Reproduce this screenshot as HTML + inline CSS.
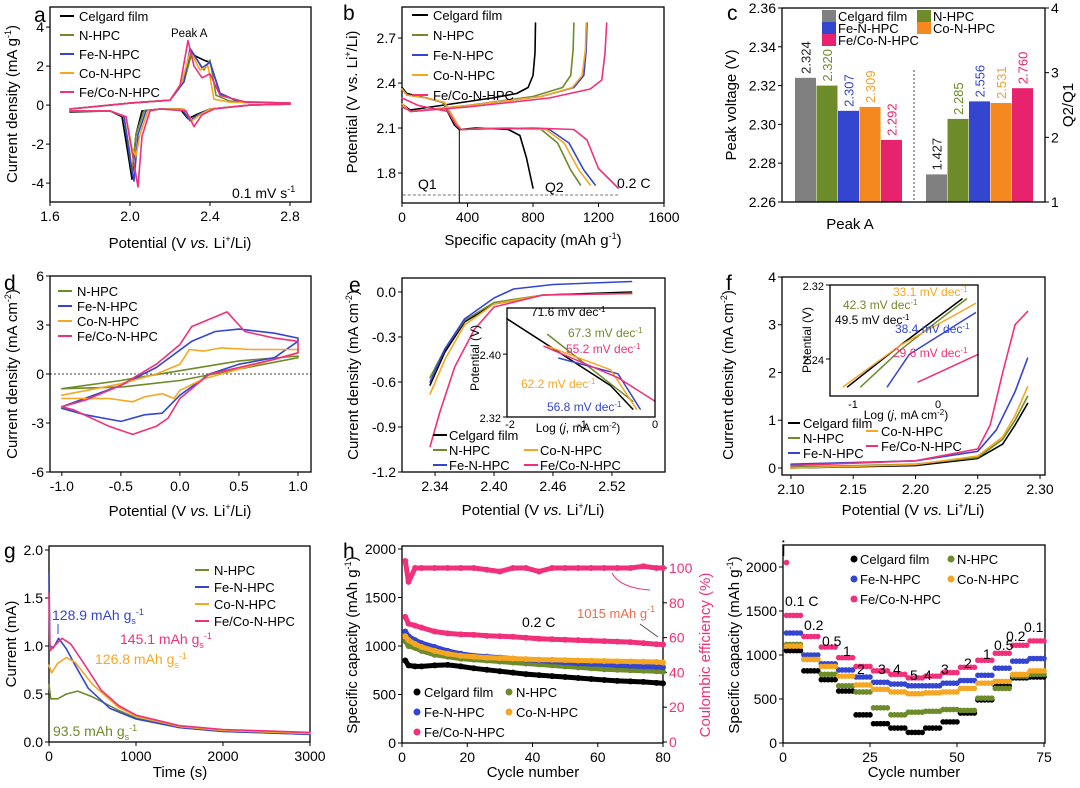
<!DOCTYPE html>
<html><head><meta charset="utf-8">
<style>
html,body{margin:0;padding:0;background:#fff;}
svg{display:block;font-family:"Liberation Sans",Arial,sans-serif;}
</style></head>
<body>
<svg id="fig" width="1080" height="788" viewBox="0 0 1080 788" xmlns="http://www.w3.org/2000/svg"></svg>
<script>
// ---------------- DATA ----------------
const seriesNames = ["Celgard film","N-HPC","Fe-N-HPC","Co-N-HPC","Fe/Co-N-HPC"];
const seriesColors = ["#000000","#6e8b2a","#3446d0","#f5a623","#f0307a"];
// a: CV curves [V, I]
const cvA_black = [[1.7,-0.35],[1.9,-0.3],[1.96,-0.6],[1.99,-2.5],[2.01,-3.8],[2.03,-1.5],[2.06,-0.3],[2.15,-0.2],[2.25,-0.2],[2.29,-0.7],[2.33,-0.5],[2.4,-0.2],[2.6,0],[2.8,0.05],[2.8,0.1],[2.55,0.15],[2.45,0.6],[2.4,2.2],[2.37,2.3],[2.33,2.5],[2.3,2.7],[2.27,1.2],[2.2,0.25],[2.0,0.1],[1.7,-0.2]];
const cvA_n = [[1.7,-0.3],[1.9,-0.3],[1.97,-0.6],[2.0,-2.5],[2.01,-3.4],[2.03,-1.5],[2.07,-0.3],[2.15,-0.2],[2.26,-0.2],[2.3,-0.8],[2.34,-0.5],[2.4,-0.2],[2.6,0],[2.8,0.05],[2.8,0.1],[2.5,0.2],[2.43,0.5],[2.4,2.3],[2.37,1.8],[2.33,2.4],[2.31,2.7],[2.27,1.2],[2.2,0.25],[2.0,0.1],[1.7,-0.2]];
const cvA_fe = [[1.7,-0.3],[1.9,-0.3],[1.97,-0.6],[2.0,-2.8],[2.02,-3.9],[2.04,-1.5],[2.08,-0.3],[2.15,-0.2],[2.26,-0.2],[2.3,-0.8],[2.34,-0.5],[2.4,-0.2],[2.6,0],[2.8,0.05],[2.8,0.1],[2.55,0.15],[2.45,0.6],[2.4,2.2],[2.36,1.9],[2.32,2.6],[2.3,2.9],[2.27,1.2],[2.2,0.25],[2.0,0.1],[1.7,-0.2]];
const cvA_co = [[1.7,-0.3],[1.9,-0.3],[1.98,-0.6],[2.01,-2.2],[2.03,-2.6],[2.05,-1.5],[2.09,-0.3],[2.15,-0.2],[2.27,-0.2],[2.31,-0.8],[2.35,-0.5],[2.4,-0.2],[2.6,0],[2.8,0.05],[2.8,0.1],[2.5,0.15],[2.42,0.3],[2.39,2.0],[2.35,1.8],[2.32,2.4],[2.3,2.7],[2.26,1.2],[2.2,0.25],[2.0,0.1],[1.7,-0.2]];
const cvA_feco = [[1.7,-0.3],[1.9,-0.3],[1.98,-0.6],[2.02,-3.0],[2.04,-4.2],[2.06,-1.6],[2.1,-0.3],[2.15,-0.2],[2.28,-0.3],[2.32,-1.1],[2.36,-0.5],[2.42,-0.2],[2.6,0],[2.8,0.05],[2.8,0.1],[2.58,0.15],[2.45,0.5],[2.4,1.6],[2.36,1.4],[2.32,2.0],[2.29,3.3],[2.25,1.0],[2.2,0.25],[2.0,0.1],[1.7,-0.2]];
// b: discharge/charge [capacity, V]
const gcdDis_black = [[0,2.37],[30,2.33],[150,2.30],[250,2.27],[320,2.12],[350,2.09],[450,2.10],[650,2.09],[720,2.05],[760,1.9],[800,1.7]];
const gcdChg_black = [[0,2.26],[50,2.22],[300,2.26],[550,2.30],[700,2.33],[770,2.37],[800,2.45],[812,2.6],[815,2.8]];
const gcdDis_n = [[0,2.36],[30,2.32],[150,2.30],[250,2.27],[330,2.12],[360,2.09],[600,2.10],[850,2.09],[950,2.0],[1030,1.82],[1090,1.72]];
const gcdChg_n = [[0,2.26],[50,2.21],[400,2.25],[800,2.31],[980,2.37],[1030,2.45],[1045,2.62],[1050,2.8]];
const gcdDis_fe = [[0,2.36],[30,2.32],[150,2.30],[260,2.27],[340,2.12],[360,2.09],[650,2.10],[900,2.09],[1020,2.0],[1110,1.82],[1180,1.72]];
const gcdChg_fe = [[0,2.26],[50,2.21],[400,2.25],[850,2.31],[1050,2.37],[1110,2.45],[1125,2.62],[1130,2.8]];
const gcdDis_co = [[0,2.36],[30,2.32],[150,2.30],[260,2.27],[340,2.12],[360,2.09],[650,2.10],[880,2.09],[990,2.0],[1080,1.82],[1150,1.72]];
const gcdChg_co = [[0,2.26],[50,2.21],[400,2.25],[850,2.31],[1040,2.37],[1100,2.45],[1120,2.62],[1125,2.8]];
const gcdDis_feco = [[0,2.3],[40,2.28],[100,2.25],[280,2.21],[330,2.12],[360,2.09],[800,2.10],[1050,2.09],[1130,2.02],[1200,1.83],[1320,1.7]];
const gcdChg_feco = [[0,2.24],[60,2.21],[400,2.24],[900,2.30],[1150,2.36],[1220,2.42],[1240,2.6],[1250,2.8]];
// c: bars
const peakVoltage = [2.324,2.320,2.307,2.309,2.292];
const q2q1 = [1.427,2.285,2.556,2.531,2.760];
// d: symmetric cell CV
const cvD_n = [[-1,-0.9],[-0.5,-0.4],[0,0.2],[0.5,0.8],[1,1.1],[1,1.0],[0.5,0.3],[0,-0.4],[-0.5,-0.8],[-1,-0.9]];
const cvD_fe = [[-1,-2.0],[-0.5,-0.7],[-0.2,0.4],[0.1,2.0],[0.3,2.6],[0.5,2.75],[0.8,2.5],[1,2.2],[1,2.0],[0.8,1.0],[0.5,0.6],[0.25,0],[0,-1.3],[-0.15,-2.4],[-0.3,-2.5],[-0.5,-2.9],[-0.8,-2.5],[-1,-2.1]];
const cvD_co = [[-1,-1.3],[-0.5,-0.6],[-0.2,0.0],[0,0.6],[0.08,1.5],[0.2,1.4],[0.35,1.6],[0.6,1.5],[1,1.5],[1,1.3],[0.5,0.3],[0.2,-0.3],[0,-1.0],[-0.05,-1.5],[-0.15,-1.2],[-0.3,-1.4],[-0.4,-1.7],[-0.6,-1.5],[-1,-1.5]];
const cvD_feco = [[-1,-2],[-0.8,-1.6],[-0.5,-0.7],[-0.2,0.6],[0,1.8],[0.1,2.9],[0.3,3.5],[0.4,3.8],[0.55,2.6],[0.8,2.2],[1,2],[1,1.3],[0.8,0.9],[0.5,0.4],[0.25,0],[0,-1.5],[-0.1,-2.7],[-0.2,-3.2],[-0.4,-3.7],[-0.6,-3.2],[-0.9,-2.2],[-1,-2]];
// e: LSV
const lsvE_black = [[2.335,-0.62],[2.35,-0.4],[2.37,-0.2],[2.40,-0.08],[2.45,-0.02],[2.54,0]];
const lsvE_n = [[2.335,-0.57],[2.35,-0.38],[2.37,-0.19],[2.40,-0.07],[2.45,-0.02],[2.54,-0.01]];
const lsvE_fe = [[2.335,-0.6],[2.35,-0.38],[2.37,-0.18],[2.40,-0.04],[2.42,0.02],[2.46,0.05],[2.54,0.07]];
const lsvE_co = [[2.335,-0.68],[2.35,-0.45],[2.37,-0.22],[2.40,-0.08],[2.45,-0.02],[2.54,-0.01]];
const lsvE_feco = [[2.335,-1.03],[2.345,-0.8],[2.36,-0.5],[2.38,-0.25],[2.40,-0.1],[2.45,-0.02],[2.54,-0.01]];
const tafelE = [[[-2,2.445],[-0.6,2.36],[-0.3,2.33]],[[-1.45,2.425],[-0.3,2.34]],[[-1.3,2.395],[-0.5,2.375],[-0.2,2.33]],[[-1.45,2.41],[-0.6,2.38],[-0.25,2.33]],[[-1.5,2.41],[-0.5,2.37],[0,2.34]]];
// f: LSV oxidation
const lsvF_black = [[2.10,0.0],[2.2,0.05],[2.25,0.2],[2.27,0.5],[2.28,0.9],[2.29,1.35]];
const lsvF_n = [[2.10,0.02],[2.2,0.08],[2.25,0.22],[2.27,0.6],[2.28,1.0],[2.29,1.5]];
const lsvF_fe = [[2.10,0.08],[2.2,0.15],[2.25,0.35],[2.265,0.8],[2.28,1.6],[2.29,2.3]];
const lsvF_co = [[2.10,0.0],[2.2,0.07],[2.25,0.25],[2.27,0.65],[2.28,1.1],[2.29,1.7]];
const lsvF_feco = [[2.10,0.05],[2.2,0.15],[2.25,0.4],[2.26,0.9],[2.27,2.0],[2.28,3.0],[2.29,3.28]];
// g: potentiostatic
const ptG_n = [[0,0.6],[20,0.45],[100,0.45],[200,0.5],[330,0.53],[500,0.47],[800,0.33],[1000,0.25],[1500,0.15],[2000,0.11],[3000,0.08]];
const ptG_fe = [[0,1.75],[10,1.0],[50,0.98],[110,1.08],[200,0.97],[300,0.8],[450,0.56],[700,0.35],[1000,0.24],[1500,0.15],[2000,0.11],[3000,0.08]];
const ptG_co = [[0,0.8],[30,0.72],[100,0.82],[200,0.88],[300,0.83],[500,0.6],[800,0.36],[1000,0.27],[1500,0.16],[2000,0.12],[3000,0.09]];
const ptG_feco = [[0,1.55],[10,0.95],[60,1.0],[150,1.08],[250,1.02],[400,0.82],[600,0.54],[800,0.38],[1000,0.28],[1500,0.17],[2000,0.13],[3000,0.1]];
// h: cycling (every 4 cycles)
const cycH = [1,2,4,6,10,14,18,22,26,30,34,38,42,46,50,54,58,62,66,70,74,78,80];
const capH_black = [850,800,790,790,800,805,790,770,755,740,725,710,700,690,680,670,660,650,640,635,630,620,615];
const capH_n = [1050,1000,980,950,910,890,870,860,850,840,830,820,810,800,790,780,770,760,755,750,745,740,735];
const capH_fe = [1150,1100,1060,1030,990,950,920,900,890,880,870,860,850,840,830,820,815,810,800,795,790,785,780];
const capH_co = [1100,1060,1020,990,950,920,900,890,880,875,870,865,860,858,855,850,848,845,842,840,838,835,830];
const capH_feco = [1300,1230,1210,1190,1150,1130,1120,1115,1105,1100,1095,1085,1075,1070,1065,1060,1055,1050,1045,1040,1030,1018,1015];
const ceH = [104,92,100,100,100,100,100,100,99,98,100,100,98,100,100,100,100,100,100,100,101,100,100];
// i: rate
const rateCycles = [3,8,13,18,23,28,33,38,43,48,53,58,63,68,73];
const rateI_black = [1050,820,720,590,320,220,170,120,170,240,340,490,650,740,750];
const rateI_n = [1120,950,780,650,580,400,320,350,360,380,370,510,620,760,780];
const rateI_fe = [1250,1000,900,830,750,690,670,650,650,680,710,770,850,930,960];
const rateI_co = [1100,950,870,760,660,610,580,560,570,580,620,680,700,780,820];
const rateI_feco = [1450,1210,1090,970,870,820,780,740,760,800,860,940,1020,1110,1160];

// ---------------- HELPERS ----------------
const svg = document.getElementById('fig');
const NS = "http://www.w3.org/2000/svg";
function mk(tag, attrs, name, parent){
  const e = document.createElementNS(NS, tag);
  for (const k in attrs) e.setAttribute(k, attrs[k]);
  
  
  (parent||svg).appendChild(e);
  return e;
}
function txt(x,y,s,opt,name){
  opt=opt||{};
  const t = mk('text',{x:x,y:y,'font-size':opt.fs||14,fill:opt.fill||'#000','text-anchor':opt.anchor||'start','font-weight':opt.fw||'normal'},name||'label');
  if(opt.rot) t.setAttribute('transform','rotate('+opt.rot+' '+x+' '+y+')');
  t.innerHTML = s;
  return t;
}
function panel(L,T,R,B,x0,x1,y0,y1){
  return {L,T,R,B,x0,x1,y0,y1,sx:v=>L+(v-x0)/(x1-x0)*(R-L),sy:v=>B-(v-y0)/(y1-y0)*(B-T)};
}
function frame(p,name){
  mk('rect',{x:p.L,y:p.T,width:p.R-p.L,height:p.B-p.T,fill:'none',stroke:'#000','stroke-width':1.3},name);
}
function xticks(p,vals,fmt){
  vals.forEach(v=>{const x=p.sx(v);
    mk('line',{x1:x,x2:x,y1:p.B,y2:p.B+4,stroke:'#000'},'x-tick');
    txt(x,p.B+19,fmt(v),{anchor:'middle'},'x-tick-label');});
}
function yticks(p,vals,fmt,right,color,fs){
  vals.forEach(v=>{const y=p.sy(v);
    if(right){mk('line',{x1:p.R,x2:p.R+4,y1:y,y2:y,stroke:'#000'},'y-right-tick');
      txt(p.R+6,y+5,fmt(v),{fill:color||'#000',fs:fs||14},'y-right-tick-label');}
    else{mk('line',{x1:p.L,x2:p.L-4,y1:y,y2:y,stroke:'#000'},'y-tick');
      txt(p.L-6,y+5,fmt(v),{anchor:'end',fs:fs||14},'y-tick-label');}});
}
function line(p,pts,color,name,w,dash){
  const d = pts.map((q,i)=>(i?'L':'M')+p.sx(q[0]).toFixed(1)+','+p.sy(q[1]).toFixed(1)).join('');
  const a={d:d,fill:'none',stroke:color,'stroke-width':w||1.6,'stroke-linejoin':'round','stroke-linecap':'round'};
  if(dash) a['stroke-dasharray']=dash;
  return mk('path',a,name);
}
function legend(x,y,idx,dy,name,len){
  idx.forEach((i,k)=>{
    mk('line',{x1:x,x2:x+(len||14),y1:y+k*dy-5,y2:y+k*dy-5,stroke:seriesColors[i],'stroke-width':2},name+'-swatch');
    txt(x+(len||14)+5,y+k*dy,seriesNames[i],{fs:13},name+'-entry');
  });
}
function letter(x,y,s){txt(x,y,s,{fs:21},'panel-label-'+s);}
const vsLi = 'Potential (V <tspan font-style="italic">vs.</tspan> Li<tspan font-size="9" dy="-6">+</tspan><tspan dy="6">/Li)</tspan>';
const f0=v=>String(v), f1=v=>v.toFixed(1), f2=v=>v.toFixed(2);
const sup=s=>'<tspan font-size="9" dy="-6">'+s+'</tspan><tspan dy="6">)</tspan>';

// ---------------- PANEL A ----------------
const pa = panel(50,7,311,202,1.6,2.905,-4.97,5.03);
frame(pa,'panel-a-frame');
xticks(pa,[1.6,2.0,2.4,2.8],f1); yticks(pa,[-4,-2,0,2,4],f0);
[cvA_black,cvA_n,cvA_fe,cvA_co,cvA_feco].forEach((s,i)=>line(pa,s,seriesColors[i],'cv-a-'+i));
legend(60,21,[0,1,2,3,4],19,'legend-a');
txt(171,37,'Peak A',{fs:11.5},'peak-a-label');
txt(232,198,'0.1 mV s<tspan font-size="9" dy="-6">-1</tspan>',{fs:14},'scan-rate-label');
txt(180,248,vsLi,{anchor:'middle',fs:15},'x-axis-title-a');
txt(17,104,'Current density (mA g'+sup('-1'),{anchor:'middle',fs:15,rot:-90},'y-axis-title-a');
letter(34,22,'a');

// ---------------- PANEL B ----------------
const pb = panel(402,7,664,203,0,1600,1.6,2.907);
frame(pb,'panel-b-frame');
xticks(pb,[0,400,800,1200,1600],f0); yticks(pb,[1.8,2.1,2.4,2.7],f1);
[[gcdDis_black,gcdChg_black],[gcdDis_n,gcdChg_n],[gcdDis_fe,gcdChg_fe],[gcdDis_co,gcdChg_co],[gcdDis_feco,gcdChg_feco]].forEach((s,i)=>{
  line(pb,s[0],seriesColors[i],'discharge-b-'+i); line(pb,s[1],seriesColors[i],'charge-b-'+i);});
legend(412,20,[0,1,2,3,4],20,'legend-b',16);
mk('line',{x1:pb.sx(350),x2:pb.sx(350),y1:pb.sy(2.09),y2:pb.B,stroke:'#000'},'q1-divider');
mk('line',{x1:pb.sx(5),x2:pb.sx(345),y1:195,y2:195,stroke:'#777','stroke-dasharray':'3,2'},'q1-arrow');
mk('line',{x1:pb.sx(355),x2:pb.sx(1320),y1:195,y2:195,stroke:'#777','stroke-dasharray':'3,2'},'q2-arrow');
txt(418,189,'Q1',{fs:14},'q1-label'); txt(545,192,'Q2',{fs:14},'q2-label'); txt(617,188,'0.2 C',{fs:14},'rate-label-b');
txt(533,245,'Specific capacity (mAh g'+sup('-1'),{anchor:'middle',fs:15},'x-axis-title-b');
txt(357,102,'Potential (V vs. Li'+'<tspan font-size="9" dy="-6">+</tspan><tspan dy="6">/Li)</tspan>',{anchor:'middle',fs:15,rot:-90},'y-axis-title-b');
letter(343,20,'b');

// ---------------- PANEL C ----------------
const pc = panel(782,8,1045,202,0,263,2.26,2.36);
const pcR = panel(782,8,1045,202,0,263,1,4);
const barColors = ["#808080","#6e8b2a","#3446d0","#f5891f","#e8236e"];
const barTxt = ["#222","#6e8b2a","#3446d0","#f0a030","#e8236e"];
peakVoltage.forEach((v,i)=>{
  const x0=pc.sx(13+i*21.5), w=21;
  mk('rect',{x:x0,y:pc.sy(v),width:w,height:pc.B-pc.sy(v),fill:barColors[i]},'peak-voltage-bar-'+i);
  txt(x0+w/2+5,pc.sy(v)-4,v.toFixed(3),{fs:13,fill:barTxt[i],rot:-90},'peak-voltage-value');
});
q2q1.forEach((v,i)=>{
  const x0=pc.sx(144+i*21.5), w=21;
  mk('rect',{x:x0,y:pcR.sy(v),width:w,height:pcR.B-pcR.sy(v),fill:barColors[i]},'q2q1-bar-'+i);
  txt(x0+w/2+5,pcR.sy(v)-4,v.toFixed(3),{fs:13,fill:barTxt[i],rot:-90},'q2q1-value');
});
mk('line',{x1:914,x2:914,y1:70,y2:202,stroke:'#444','stroke-dasharray':'2,2'},'group-divider');
frame(pc,'panel-c-frame');
yticks(pc,[2.26,2.28,2.30,2.32,2.34,2.36],f2); yticks(pcR,[1,2,3,4],f0,true);
[[0,822,21],[2,822,33],[4,822,45],[1,917,21],[3,917,33]].forEach(e=>{
  mk('rect',{x:e[1],y:e[2]-11,width:14,height:12,fill:barColors[e[0]]},'legend-c-swatch');
  txt(e[1]+16,e[2],seriesNames[e[0]],{fs:13},'legend-c-entry');});
txt(850,229,'Peak A',{anchor:'middle',fs:15},'x-category-label-c');
txt(736,105,'Peak voltage (V)',{anchor:'middle',fs:15,rot:-90},'y-axis-title-c');
txt(1073,105,'Q2/Q1',{anchor:'middle',fs:15,rot:-90},'y-right-axis-title-c');
letter(727,20,'c');

// ---------------- PANEL D ----------------
const pd = panel(50,276,311,472,-1.10,1.11,-6,6);
frame(pd,'panel-d-frame');
xticks(pd,[-1,-0.5,0,0.5,1],f1); yticks(pd,[-6,-3,0,3,6],f0);
mk('line',{x1:pd.L,x2:pd.R,y1:pd.sy(0),y2:pd.sy(0),stroke:'#000','stroke-dasharray':'2,2','stroke-width':0.8},'zero-line-d');
[[cvD_n,1],[cvD_fe,2],[cvD_co,3],[cvD_feco,4]].forEach(s=>line(pd,s[0],seriesColors[s[1]],'cv-d-'+s[1]));
legend(58,296,[1,2,3,4],15,'legend-d');
txt(180,516,vsLi,{anchor:'middle',fs:15},'x-axis-title-d');
txt(17,374,'Current density (mA cm'+sup('-2'),{anchor:'middle',fs:15,rot:-90},'y-axis-title-d');
letter(4,290,'d');

// ---------------- PANEL E ----------------
const pe = panel(402,278,665,472,2.3064,2.574,-1.2,0.093);
frame(pe,'panel-e-frame');
xticks(pe,[2.34,2.40,2.46,2.52],f2); yticks(pe,[0,-0.3,-0.6,-0.9,-1.2],f1);
[lsvE_black,lsvE_n,lsvE_fe,lsvE_co,lsvE_feco].forEach((s,i)=>line(pe,s,seriesColors[i],'lsv-e-'+i));
const pei = panel(507,308,655,417,-2.0,0.0,2.32,2.4587);
mk('rect',{x:507,y:308,width:148,height:109,fill:'#fff'},'inset-e-bg');
tafelE.forEach((s,i)=>line(pei,s,seriesColors[i],'tafel-e-'+i,1.5));
frame(pei,'inset-e-frame');
yticks(pei,[2.32,2.40],f2,false,null,11);
txt(510,428,'-2',{anchor:'middle',fs:11},'inset-e-tick'); txt(582,428,'-1',{anchor:'middle',fs:11},'inset-e-tick'); txt(655,428,'0',{anchor:'middle',fs:11},'inset-e-tick');
txt(578,432,'Log (<tspan font-style="italic">j</tspan>, mA cm<tspan font-size="8" dy="-4">-2</tspan><tspan dy="4">)</tspan>',{anchor:'middle',fs:12},'inset-e-x-title');
txt(479,358,'Potential (V)',{anchor:'middle',fs:12,rot:-90},'inset-e-y-title');
txt(531,316,'71.6 mV dec<tspan font-size="8" dy="-4">-1</tspan>',{fs:12},'tafel-label');
txt(568,337,'67.3 mV dec<tspan font-size="8" dy="-4">-1</tspan>',{fs:12,fill:'#6e8b2a'},'tafel-label');
txt(566,353,'55.2 mV dec<tspan font-size="8" dy="-4">-1</tspan>',{fs:12,fill:'#f0307a'},'tafel-label');
txt(521,388,'62.2 mV dec<tspan font-size="8" dy="-4">-1</tspan>',{fs:12,fill:'#f5a623'},'tafel-label');
txt(547,411,'56.8 mV dec<tspan font-size="8" dy="-4">-1</tspan>',{fs:12,fill:'#3446d0'},'tafel-label');
[[0,433,440],[1,433,455],[2,433,470],[3,524,455],[4,524,470]].forEach(e=>{
  mk('line',{x1:e[1],x2:e[1]+14,y1:e[2]-5,y2:e[2]-5,stroke:seriesColors[e[0]],'stroke-width':2},'legend-e-swatch');
  txt(e[1]+16,e[2],seriesNames[e[0]],{fs:13},'legend-e-entry');});
txt(533,515,vsLi,{anchor:'middle',fs:15},'x-axis-title-e');
txt(358,375,'Current density (mA cm'+sup('-2'),{anchor:'middle',fs:15,rot:-90},'y-axis-title-e');
letter(349,292,'e');

// ---------------- PANEL F ----------------
const pf = panel(782,277,1045,475,2.0928,2.304,-0.147,4);
frame(pf,'panel-f-frame');
xticks(pf,[2.10,2.15,2.20,2.25,2.30],f2); yticks(pf,[0,1,2,3,4],f0);
[lsvF_black,lsvF_n,lsvF_fe,lsvF_co,lsvF_feco].forEach((s,i)=>line(pf,s,seriesColors[i],'lsv-f-'+i));
const pfi = panel(830,285,978,396,-1.3,0.38,2.2,2.32);
mk('rect',{x:830,y:285,width:148,height:111,fill:'#fff'},'inset-f-bg');
[[[-1.1,2.21],[-0.5,2.255],[0.2,2.305]],[[-0.95,2.21],[-0.5,2.25],[0.25,2.305]],[[-0.65,2.21],[-0.4,2.245],[0.35,2.29]],[[-1.15,2.21],[-0.5,2.255],[0.35,2.3]],[[-0.3,2.215],[0.38,2.245]]].forEach((s,i)=>line(pfi,s,seriesColors[i],'tafel-f-'+i,1.5));
frame(pfi,'inset-f-frame');
yticks(pfi,[2.24,2.32],f2,false,null,11);
txt(853,408,'-1',{anchor:'middle',fs:11},'inset-f-tick'); txt(938,408,'0',{anchor:'middle',fs:11},'inset-f-tick');
txt(906,419,'Log (<tspan font-style="italic">j</tspan>, mA cm<tspan font-size="8" dy="-4">-2</tspan><tspan dy="4">)</tspan>',{anchor:'middle',fs:12},'inset-f-x-title');
txt(811,340,'Potential (V)',{anchor:'middle',fs:12,rot:-90},'inset-f-y-title');
txt(893,296,'33.1 mV dec<tspan font-size="8" dy="-4">-1</tspan>',{fs:12,fill:'#f5a623'},'tafel-label');
txt(843,309,'42.3 mV dec<tspan font-size="8" dy="-4">-1</tspan>',{fs:12,fill:'#6e8b2a'},'tafel-label');
txt(835,324,'49.5 mV dec<tspan font-size="8" dy="-4">-1</tspan>',{fs:12},'tafel-label');
txt(895,333,'38.4 mV dec<tspan font-size="8" dy="-4">-1</tspan>',{fs:12,fill:'#3446d0'},'tafel-label');
txt(893,357,'29.6 mV dec<tspan font-size="8" dy="-4">-1</tspan>',{fs:12,fill:'#f0307a'},'tafel-label');
[[0,788,428],[1,788,443],[2,788,458],[3,866,436],[4,866,451]].forEach(e=>{
  mk('line',{x1:e[1],x2:e[1]+12,y1:e[2]-5,y2:e[2]-5,stroke:seriesColors[e[0]],'stroke-width':2},'legend-f-swatch');
  txt(e[1]+15,e[2],seriesNames[e[0]],{fs:13},'legend-f-entry');});
txt(913,515,vsLi,{anchor:'middle',fs:15},'x-axis-title-f');
txt(733,375,'Current density (mA cm'+sup('-2'),{anchor:'middle',fs:15,rot:-90},'y-axis-title-f');
letter(726,290,'f');

// ---------------- PANEL G ----------------
const pg = panel(49,546,310,742,-5,3000+5/0.087,-0.0,2.0);
pg.y0 = 0; pg.sy = v=>742-v*96; pg.sx = v=>49+v*0.087;
frame(pg,'panel-g-frame');
xticks(pg,[0,1000,2000,3000],f0); yticks(pg,[0,0.5,1.0,1.5,2.0],f1);
[[ptG_n,1],[ptG_fe,2],[ptG_co,3],[ptG_feco,4]].forEach(s=>line(pg,s[0],seriesColors[s[1]],'current-g-'+s[1]));
legend(195,575,[1,2,3,4],17,'legend-g');
const gs='<tspan font-size="9" dy="4">s</tspan><tspan font-size="9" dy="-9">-1</tspan>';
mk('line',{x1:58,x2:58,y1:624,y2:634,stroke:'#3446d0'},'capacity-pointer');
txt(52,620,'128.9 mAh g'+gs,{fs:14,fill:'#3446d0'},'capacity-label');
txt(120,644,'145.1 mAh g'+gs,{fs:14,fill:'#f0307a'},'capacity-label');
txt(95,664,'126.8 mAh g'+gs,{fs:14,fill:'#f5a623'},'capacity-label');
txt(53,736,'93.5 mAh g'+gs,{fs:14,fill:'#6e8b2a'},'capacity-label');
txt(180,777,'Time (s)',{anchor:'middle',fs:15},'x-axis-title-g');
txt(16,644,'Current (mA)',{anchor:'middle',fs:15,rot:-90},'y-axis-title-g');
letter(4,558,'g');

// ---------------- PANEL H ----------------
const ph = panel(402,546,663,743,0,80,0,2000);
ph.sy = v=>743-v*0.097;
const phR = panel(402,546,663,742,0,80,0,100);
phR.sy = v=>742-v*1.74;
frame(ph,'panel-h-frame');
xticks(ph,[0,20,40,60,80],f0); yticks(ph,[0,500,1000,1500,2000],f0);
yticks(phR,[0,20,40,60,80,100],f0,true,'#f0307a');
[capH_black,capH_n,capH_fe,capH_co,capH_feco].forEach((s,i)=>{
  line(ph,cycH.map((c,k)=>[c,s[k]]),seriesColors[i],'capacity-trace-h-'+i,5);
  cycH.forEach((c,k)=>mk('circle',{cx:ph.sx(c),cy:ph.sy(s[k]),r:3,fill:seriesColors[i]},'capacity-point-h-'+i));});
line(phR,cycH.map((c,k)=>[c,ceH[k]]),'#f0307a','ce-trace',5);
cycH.forEach((c,k)=>mk('circle',{cx:phR.sx(c),cy:phR.sy(ceH[k]),r:3,fill:'#f0307a'},'ce-point'));
txt(522,627,'0.2 C',{fs:14},'rate-label-h');
txt(577,618,'1015 mAh g<tspan font-size="9" dy="-6">-1</tspan>',{fs:13,fill:'#ef6a4a'},'capacity-annotation-h');
mk('path',{d:'M612,573 Q620,588 650,590',fill:'none',stroke:'#f0307a'},'ce-arrow');
mk('path',{d:'M640,624 L658,637',fill:'none',stroke:'#555'},'capacity-arrow');
[[0,413,697],[1,505,697],[2,413,717],[3,505,717],[4,413,737]].forEach(e=>{
  mk('circle',{cx:e[1]+4,cy:e[2]-5,r:3.5,fill:seriesColors[e[0]]},'legend-h-swatch');
  txt(e[1]+11,e[2],seriesNames[e[0]],{fs:13},'legend-h-entry');});
txt(533,777,'Cycle number',{anchor:'middle',fs:15},'x-axis-title-h');
txt(357,645,'Specific capacity (mAh g'+sup('-1'),{anchor:'middle',fs:15,rot:-90},'y-axis-title-h');
txt(710,655,'Coulombic efficiency (%)',{anchor:'middle',fs:15,rot:-90,fill:'#f0307a'},'y-right-axis-title-h');
letter(343,558,'h');

// ---------------- PANEL I ----------------
const pi = panel(783,545,1045,743,0,75,0,2000);
pi.sy = v=>743-v*0.088; pi.sx = v=>783+v*3.48;
frame(pi,'panel-i-frame');
xticks(pi,[0,25,50,75],f0); yticks(pi,[0,500,1000,1500,2000],f0);
[rateI_black,rateI_n,rateI_fe,rateI_co,rateI_feco].forEach((s,i)=>{
  rateCycles.forEach((c,k)=>{[-2,-1,0,1,2].forEach(o=>
    mk('circle',{cx:pi.sx(c+o),cy:pi.sy(s[k]),r:2.8,fill:seriesColors[i]},'rate-point-i-'+i));});});
mk('circle',{cx:pi.sx(1),cy:pi.sy(2050),r:2.8,fill:'#f0307a'},'rate-first-point');
[[0,860,564],[1,957,564],[2,860,584],[3,957,584],[4,860,604]].forEach(e=>{
  mk('circle',{cx:e[1]-6,cy:e[2]-5,r:3.5,fill:seriesColors[e[0]]},'legend-i-swatch');
  txt(e[1],e[2],seriesNames[e[0]],{fs:13},'legend-i-entry');});
[['0.1 C',785,606],['0.2',804,630],['0.5',822,646],['1',843,656],['2',857,674],['3',878,674],['4',893,674],['5',910,680],['4',924,680],['3',941,674],['2',964,668],['1',983,659],['0.5',994,650],['0.2',1006,641],['0.1',1024,632]].forEach(r=>
  txt(r[1],r[2],r[0],{fs:14},'rate-step-label'));
txt(914,777,'Cycle number',{anchor:'middle',fs:15},'x-axis-title-i');
txt(739,645,'Specific capacity (mAh g'+sup('-1'),{anchor:'middle',fs:15,rot:-90},'y-axis-title-i');
letter(781,556,'i');
</script>
</body></html>
